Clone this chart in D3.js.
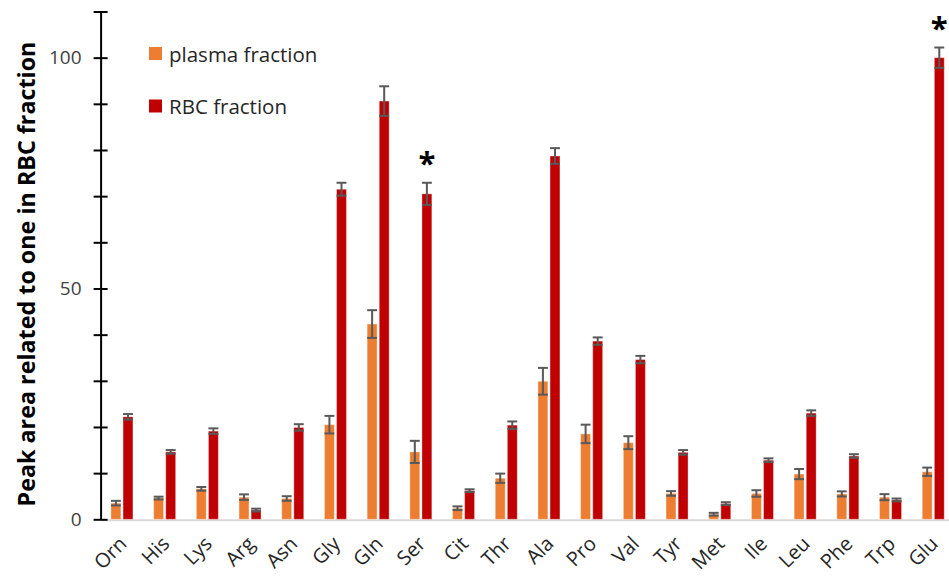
<!DOCTYPE html>
<html>
<head>
<meta charset="utf-8">
<script src="https://cdn.jsdelivr.net/npm/d3@7"></script>
<style>
  html, body { margin: 0; padding: 0; background: #fff; }
  svg { display: block; font-family: "Open Sans", "Noto Sans", sans-serif; }
</style>
</head>
<body>
<svg id="chart" width="949" height="584"></svg>
<script>
// Amino acids, in plotting order
const categories = ["Orn","His","Lys","Arg","Asn","Gly","Gln","Ser","Cit","Thr","Ala","Pro","Val","Tyr","Met","Ile","Leu","Phe","Trp","Glu"];
const seriesNames = ["plasma fraction", "RBC fraction"];

// Mean peak areas (relative to Glu in the RBC fraction = 100) and their error bars
const plasmaValues = [3.5, 4.6, 6.6, 4.8, 4.5, 20.5, 42.3, 14.6, 2.4, 8.9, 29.9, 18.5, 16.6, 5.6, 1.1, 5.6, 9.8, 5.5, 4.8, 10.3];
const plasmaErrors = [0.5, 0.3, 0.4, 0.6, 0.5, 1.9, 3.0, 2.4, 0.4, 1.0, 2.9, 2.0, 1.4, 0.5, 0.3, 0.7, 1.1, 0.55, 0.65, 0.9];
const rbcValues    = [22.2, 14.6, 19.1, 2.0, 19.9, 71.5, 90.6, 70.5, 6.2, 20.4, 78.7, 38.6, 34.6, 14.5, 3.4, 12.8, 23.0, 13.7, 4.2, 100];
const rbcErrors    = [0.6, 0.4, 0.6, 0.3, 0.7, 1.4, 3.2, 2.4, 0.3, 0.8, 1.7, 0.8, 0.8, 0.5, 0.3, 0.4, 0.6, 0.4, 0.3, 2.2];

// Amino acids marked as significant in the RBC fraction
const significant = ["Ser", "Glu"];

// Y-axis ticks: minor every 10, labelled at 0, 50, 100
const yTicks = [0, 10, 20, 30, 40, 50, 60, 70, 80, 90, 100, 110];
const yTickLabels = [0, 50, 100];

const colors = ["#ED7D31", "#C00000"];

const svg = d3.select("#chart");

const x0 = d3.scaleBand()
  .domain(categories)
  .range([100.6, 954.6])
  .paddingInner(0.485)
  .paddingOuter(0.2425);

const x1 = d3.scaleBand()
  .domain(seriesNames)
  .range([0, x0.bandwidth()])
  .paddingInner(0.18);

const y = d3.scaleLinear().domain([0, 110]).range([519.3, 11.5]);

const rows = categories.map((c, i) => ({
  cat: c,
  items: [
    { s: seriesNames[0], v: plasmaValues[i], e: plasmaErrors[i], c: colors[0] },
    { s: seriesNames[1], v: rbcValues[i], e: rbcErrors[i], c: colors[1] }
  ]
}));

// Category baseline
svg.append("line")
  .attr("x1", 101).attr("x2", 949)
  .attr("y1", y(0) + 1).attr("y2", y(0) + 1)
  .attr("stroke", "#d9d9d9").attr("stroke-width", 2);

// Bars
const groups = svg.append("g").selectAll("g")
  .data(rows).join("g")
  .attr("transform", d => `translate(${x0(d.cat)},0)`);

groups.selectAll("rect")
  .data(d => d.items).join("rect")
  .attr("x", d => x1(d.s))
  .attr("width", x1.bandwidth())
  .attr("y", d => y(d.v))
  .attr("height", d => y(0) - y(d.v))
  .attr("fill", d => d.c)
  .attr("stroke", "rgba(255,255,255,0.35)")
  .attr("stroke-width", 1);

// Error bars
const eb = groups.selectAll("g.err")
  .data(d => d.items).join("g").attr("class", "err")
  .attr("stroke", "#595959").attr("stroke-width", 2);

eb.append("line")
  .attr("x1", d => x1(d.s) + x1.bandwidth() / 2)
  .attr("x2", d => x1(d.s) + x1.bandwidth() / 2)
  .attr("y1", d => y(d.v + d.e))
  .attr("y2", d => y(Math.max(0, d.v - d.e)));
eb.append("line")
  .attr("x1", d => x1(d.s))
  .attr("x2", d => x1(d.s) + x1.bandwidth())
  .attr("y1", d => y(d.v + d.e)).attr("y2", d => y(d.v + d.e));
eb.append("line")
  .attr("x1", d => x1(d.s))
  .attr("x2", d => x1(d.s) + x1.bandwidth())
  .attr("y1", d => y(Math.max(0, d.v - d.e))).attr("y2", d => y(Math.max(0, d.v - d.e)));

// Significance markers
svg.append("g").selectAll("text")
  .data(rows.filter(r => significant.includes(r.cat)))
  .join("text")
  .attr("x", d => x0(d.cat) + x1(seriesNames[1]) + x1.bandwidth() / 2)
  .attr("y", d => y(d.items[1].v + d.items[1].e) - 9)
  .attr("text-anchor", "middle")
  .attr("font-size", 31)
  .attr("font-weight", "bold")
  .attr("fill", "#000")
  .text("*");

// Y axis
const yAxis = d3.axisLeft(y)
  .tickValues(yTicks)
  .tickFormat(d => yTickLabels.includes(d) ? d : "")
  .tickSizeOuter(0)
  .tickSizeInner(7)
  .tickPadding(12);

const ya = svg.append("g")
  .attr("transform", "translate(100.6,0)")
  .call(yAxis);
ya.select(".domain").attr("stroke", "#000").attr("stroke-width", 2);
ya.selectAll(".tick line").attr("x1", 7).attr("x2", -7).attr("stroke", "#000").attr("stroke-width", 2);
ya.selectAll(".tick text")
  .attr("font-size", 19)
  .attr("font-family", "'Open Sans', sans-serif")
  .attr("fill", "#404040");

// X category labels
svg.append("g").selectAll("text")
  .data(categories).join("text")
  .attr("transform", d => `translate(${x0(d) + x0.bandwidth() / 2 + 6},${545}) rotate(-45)`)
  .attr("text-anchor", "end")
  .attr("font-size", 20)
  .attr("fill", "#262626")
  .text(d => d);

// Y axis title
svg.append("text")
  .attr("transform", "translate(26,274) rotate(-90)")
  .attr("text-anchor", "middle")
  .attr("dominant-baseline", "central")
  .attr("font-size", 23.3)
  .attr("font-weight", "bold")
  .attr("fill", "#000")
  .text("Peak area related to one in RBC fraction");

// Legend
const legend = svg.append("g").selectAll("g")
  .data(seriesNames).join("g")
  .attr("transform", (d, i) => `translate(149,${47 + i * 52.5})`);
legend.append("rect")
  .attr("width", 13).attr("height", 13)
  .attr("fill", (d, i) => colors[i]);
legend.append("text")
  .attr("x", 20).attr("y", 6.5)
  .attr("dominant-baseline", "central")
  .attr("font-size", 20.5)
  .attr("fill", "#262626")
  .text(d => d);
</script>
</body>
</html>
